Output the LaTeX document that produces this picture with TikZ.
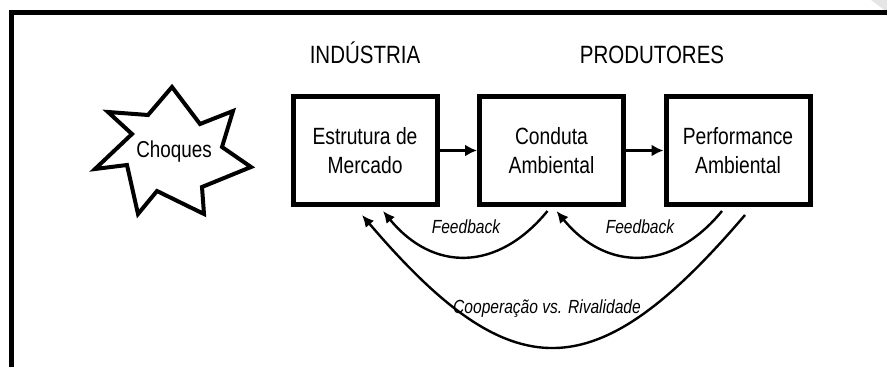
\documentclass[tikz,border=0pt]{standalone}
\usepackage{fontspec}
\setmainfont[FakeStretch=0.82]{Liberation Sans}
\usetikzlibrary{arrows.meta,positioning}
\tikzstyle{block} = [draw, line width=5pt, minimum width=144pt, minimum height=108pt, inner sep=0pt, align=center, font=\fontsize{23.5}{28.5}\selectfont]
\tikzstyle{heading} = [anchor=base, font=\fontsize{25}{30}\selectfont]
\tikzstyle{edge} = [draw, line width=2.8pt, -{Latex[length=12pt,width=12pt]}]
\tikzstyle{loop edge} = [draw, line width=2.4pt, -{Latex[length=12pt,width=11pt]}]
\tikzstyle{weight} = [anchor=base, font=\fontsize{19}{23}\selectfont\itshape]

\begin{document}
\begin{tikzpicture}[x=1pt, y=-1pt, node distance=37.5pt]
\useasboundingbox (0,0) rectangle (887,367);
% page corner and frame
\fill[black!10] (871,0) -- (887,0) -- (887,12) -- cycle;
\draw[line width=4.5pt] (11.5,367) -- (11.5,12.5) -- (887,12.5);

% First we draw the blocks
\node[block] (estrutura) at (365,150.5) {Estrutura de\\Mercado};
\node[block, right=of estrutura] (conduta) {Conduta\\Ambiental};
\node[block, right=of conduta] (performance) {Performance\\Ambiental};

% Headings
\node[heading] (industria) at (365,63) {INDÚSTRIA};
\node[heading] (produtores) at (652,63) {PRODUTORES};

% The star with its text
\draw[line width=4pt, line join=miter] (172,87) -- (200,124) -- (233,111) -- (222,147)
  -- (251,167) -- (202,187) -- (204,214) -- (157,191) -- (138,214) -- (127,165)
  -- (95,169) -- (132,134) -- (108,112) -- (148,115) -- cycle;
\node[anchor=base, font=\fontsize{23}{28}\selectfont] (choques) at (174,157) {Choques};

% Connect blocks with edges
\foreach \source/\dest in {estrutura/conduta, conduta/performance}
  \path[edge] (\source) -- (\dest);

% Feedback loops and their weights
\foreach \source/\sx/\dest/\dx in {conduta/-4/estrutura/18, performance/-16/conduta/5}
  \path[loop edge] ([xshift=\sx pt,yshift=-4pt]\source.south) .. controls +(-50,61) and +(50,61) .. ([xshift=\dx pt,yshift=-4pt]\dest.south);
\node[weight] (feedbackA) at (466,233) {Feedback};
\node[weight] (feedbackB) at (640,233) {Feedback};

\path[loop edge] ([xshift=7pt,yshift=-8pt]performance.south) .. controls +(-150,176) and +(150,176) .. ([xshift=-3pt,yshift=-8pt]estrutura.south);
\node[weight] (rivalidade) at (547,313) {Cooperação vs. Rivalidade};
\end{tikzpicture}
\end{document}
